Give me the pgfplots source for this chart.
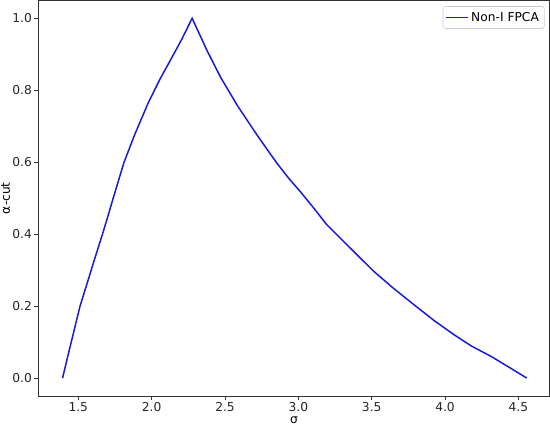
\documentclass[border=0pt]{standalone}
\usepackage{fontspec}
\setmainfont{DejaVu Sans}
\usepackage{pgfplots}
\pgfplotsset{compat=1.18}
\definecolor{lineblue}{rgb}{0.1,0.1,0.85}
\begin{document}
\begin{tikzpicture}
\begin{axis}[
    scale only axis,
    width=376pt, height=291pt,
    xmin=1.2275, xmax=4.7135,
    ymin=-0.05, ymax=1.05,
    xtick={1.5,2.0,...,4.5},
    ytick={0,0.2,...,1.0},
    xtick pos=bottom, ytick pos=left,
    tick align=outside,
    tick style={black!80, thin},
    major tick length=3pt,
    axis line style={black!80},
    /pgf/number format/assume math mode=true,
    /pgf/number format/.cd, fixed, fixed zerofill, precision=1, /pgfplots/.cd,
    ticklabel style={font=\small, text=black!85, inner sep=1.5pt},
    xlabel={σ}, ylabel={α-cut},
    label style={font=\small, inner sep=1pt},
    xlabel style={yshift=-1pt},
    ylabel style={yshift=-1pt},
    legend style={at={(0.99,0.985)}, anchor=north east, font=\small,
        draw=black!20, rounded corners=2pt, inner sep=2pt},
    legend image code/.code={\draw[lineblue, line width=1.1pt, sharp corners] (0cm,0cm) -- (0.55cm,0cm);},
    legend cell align=left,
]
\addplot[color=lineblue, line width=1.1pt] coordinates {
(1.393,0.000) (1.422,0.050) (1.452,0.100) (1.482,0.150) (1.512,0.200)
(1.550,0.250) (1.588,0.300) (1.626,0.350) (1.665,0.400) (1.702,0.450)
(1.738,0.500) (1.775,0.550) (1.812,0.600) (1.885,0.677) (1.978,0.766)
(2.057,0.831) (2.126,0.882) (2.206,0.942) (2.276,1.000)
(2.378,0.910) (2.470,0.836) (2.585,0.757) (2.716,0.677) (2.788,0.635)
(2.860,0.594) (2.937,0.554) (3.020,0.515) (3.110,0.470) (3.192,0.427)
(3.330,0.371) (3.513,0.297) (3.650,0.249) (3.788,0.204) (3.925,0.160)
(4.063,0.120) (4.180,0.089) (4.315,0.060) (4.437,0.030) (4.557,0.000)
};
\addlegendentry{Non-I FPCA}
\end{axis}
\end{tikzpicture}
\end{document}
